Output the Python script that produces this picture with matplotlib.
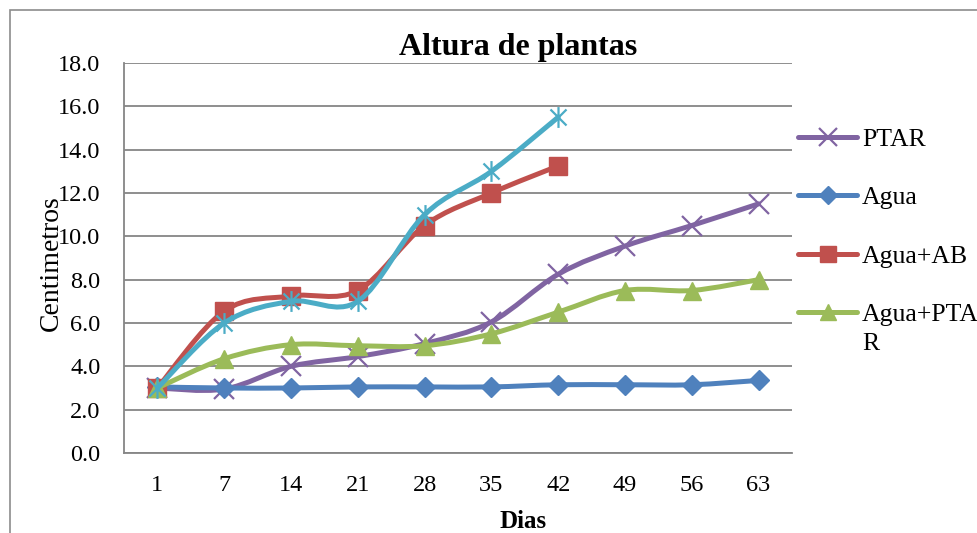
import numpy as np
import matplotlib.pyplot as plt
from matplotlib.path import Path
from matplotlib.patches import PathPatch, Rectangle
from matplotlib.lines import Line2D

plt.rcParams['font.family'] = ['Liberation Serif', 'DejaVu Serif']

# data
dias = ['1', '7', '14', '21', '28', '35', '42', '49', '56', '63']
ptar = [3.0, 2.95, 4.0, 4.45, 5.05, 6.05, 8.25, 9.55, 10.5, 11.5]
agua = [3.05, 3.0, 3.0, 3.05, 3.05, 3.05, 3.15, 3.15, 3.15, 3.35]
agua_ab = [3.0, 6.55, 7.25, 7.5, 10.5, 12.0, 13.25]
agua_ptar = [3.0, 4.35, 5.0, 4.95, 4.95, 5.5, 6.5, 7.5, 7.5, 8.0]
otro = [3.0, 6.0, 7.0, 7.0, 11.0, 13.0, 15.5]
yticks = [0, 2, 4, 6, 8, 10, 12, 14, 16, 18]

c_ptar = '#8064A2'
c_agua = '#4F81BD'
c_ab = '#C0504D'
c_aptar = '#9BBB59'
c_otro = '#4BACC6'

# excel-like star marker: x with a vertical bar
star = Path([(-1, -1), (1, 1), (-1, 1), (1, -1), (0, -1.3), (0, 1.3)],
            [Path.MOVETO, Path.LINETO, Path.MOVETO, Path.LINETO, Path.MOVETO, Path.LINETO])


def smooth(y):
    # catmull-rom curve through the points, drawn as cubic beziers
    pts = np.column_stack([np.arange(len(y)), np.asarray(y, float)])
    n = len(pts)
    verts = [pts[0]]
    codes = [Path.MOVETO]
    for i in range(n - 1):
        p0, p1 = pts[max(i - 1, 0)], pts[i]
        p2, p3 = pts[i + 1], pts[min(i + 2, n - 1)]
        verts += [p1 + (p2 - p0) / 6, p2 - (p3 - p1) / 6, p2]
        codes += [Path.CURVE4] * 3
    return Path(verts, codes)


fig = plt.figure(figsize=(9.78, 5.33), dpi=100)
ax = fig.add_axes([124/978, 80/533, 668/978, 390/533])

series = [
    (ptar, c_ptar, 'x', 15, 1.6),
    (agua, c_agua, 'D', 10, 1),
    (agua_ab, c_ab, 's', 13, 1),
    (agua_ptar, c_aptar, '^', 13, 1),
    (otro, c_otro, star, 15, 1.6),
]
handles = []
for i, (vals, col, mk, ms, mew) in enumerate(series):
    ax.add_patch(PathPatch(smooth(vals), fill=False, edgecolor=col, lw=3.6,
                           capstyle='round', joinstyle='round', zorder=2 + i))
    ax.plot(range(len(vals)), vals, ls='none', marker=mk, ms=ms, color=col,
            mec=col, mew=mew, zorder=2.5 + i)
    handles.append(Line2D([], [], color=col, lw=3.6, marker=mk, ms=ms * 0.9,
                          mec=col, mew=mew, solid_capstyle='round'))

ax.set_xlim(-0.5, len(dias) - 0.5)
ax.set_ylim(0, 18)
ax.set_xticks(range(len(dias)))
ax.set_xticklabels(dias)
ax.set_yticks(yticks)
ax.set_yticklabels(['%.1f' % v for v in yticks])
ax.tick_params(length=0, labelsize=17.5)
ax.tick_params(axis='y', pad=17)
ax.tick_params(axis='x', pad=16)

ax.yaxis.grid(True, color='#868686', lw=1.3)
ax.set_axisbelow(True)
for s in ['top', 'right']:
    ax.spines[s].set_visible(False)
for s in ['left', 'bottom']:
    ax.spines[s].set_color('#868686')
    ax.spines[s].set_linewidth(1.3)

ax.set_xlabel('Dias', fontsize=18, fontweight='bold')
ax.xaxis.label.set_va('center')
ax.xaxis.set_label_coords((523 - 124) / 668, (453 - 521) / 390)
ax.set_ylabel('Centimetros', fontsize=20)
ax.yaxis.label.set_va('center')
ax.yaxis.set_label_coords((51 - 124) / 668, (453 - 263) / 390)

fig.text(518/978, 1 - 47/533, 'Altura de plantas', ha='center', va='center',
         fontsize=23, fontweight='bold')

leg = ax.legend(handles[:4], ['PTAR', 'Agua', 'Agua+AB', 'Agua+PTA'],
                loc='upper left', bbox_to_anchor=(798/978, 1 - 128/533),
                bbox_transform=fig.transFigure, frameon=False, fontsize=18.5,
                handlelength=2.3, handletextpad=0.2, borderpad=0,
                borderaxespad=0, labelspacing=1.38)
leg.set_zorder(5)
ax.annotate('R', xy=(0, 0), xycoords=leg.get_texts()[3], xytext=(0, -5),
            textcoords='offset points', ha='left', va='top', fontsize=18.5,
            annotation_clip=False, zorder=6)

# outer chart frame
fig.patches.append(Rectangle((10/978, -0.1), 2, 1.1 - 10/533, transform=fig.transFigure,
                             fill=False, edgecolor='#8c8c8c', lw=1.2))

fig.savefig('out.png', dpi=100)
